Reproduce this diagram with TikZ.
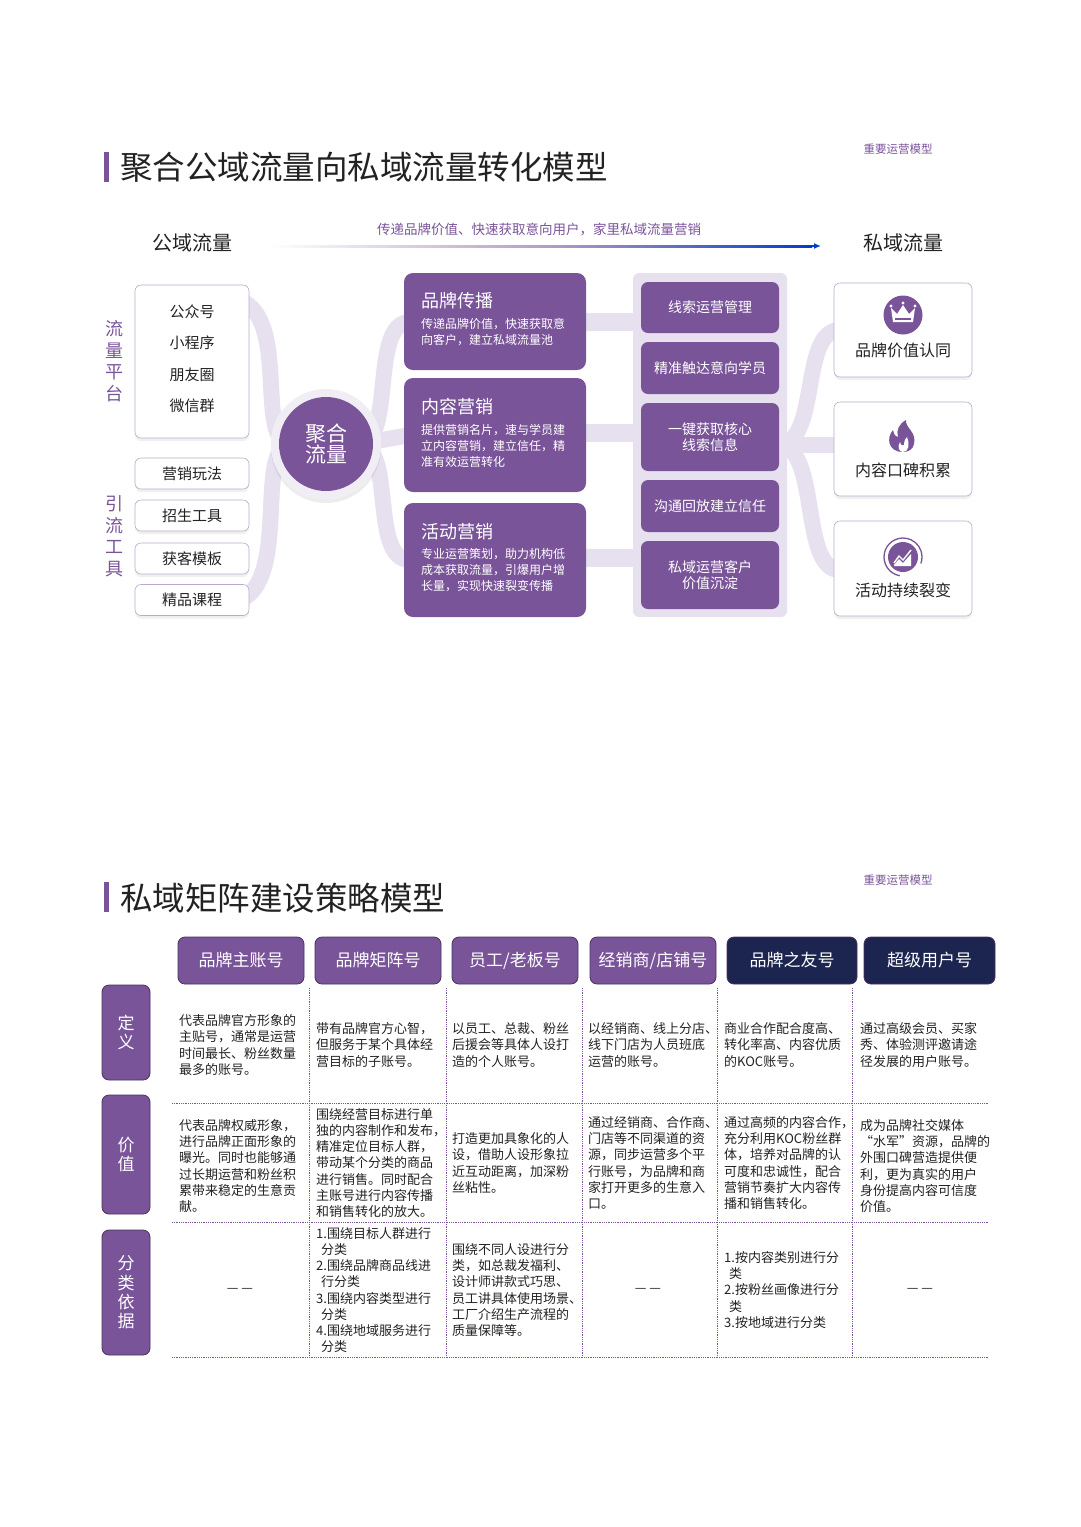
\documentclass[tikz,border=0pt]{standalone}
\usepackage{fontspec}
\setmainfont{Noto Sans CJK SC}
\usetikzlibrary{shadows,arrows.meta}
\definecolor{pp}{HTML}{7A5499}
\definecolor{lp}{HTML}{E7E1EF}
\definecolor{nv}{HTML}{1C2550}
\definecolor{tx}{HTML}{222222}
\newcommand{\fs}[1]{\fontsize{#1pt}{\dimexpr #1pt*5/4\relax}\selectfont}
\tikzset{
 wbox/.style={draw=pp!50,line width=0.6pt,fill=white,rounded corners=6pt,drop shadow={opacity=0.12,shadow xshift=0pt,shadow yshift=-3pt},inner sep=0pt,font=\fs{15},text=tx},
 pbox/.style={fill=pp,rounded corners=9pt,inner sep=0pt,text=white},
 cbox/.style={fill=pp,rounded corners=7pt,inner sep=0pt,text=white,font=\fs{14},align=center},
 band/.style={lp,line width=16pt},
 hbox/.style={draw=pp!60!black,line width=0.8pt,rounded corners=7pt,inner sep=0pt,text=white,font=\fs{17}},
 rbox/.style={fill=pp,draw=pp!60!black,line width=0.8pt,rounded corners=7pt,inner sep=0pt,text=white,font=\fs{17},align=center},
 cell/.style={anchor=west,align=left,font=\fs{13},text=tx,inner sep=0pt},
 grid/.style={pp,densely dotted,line width=0.8pt},
 side/.style={text=pp,font=\fs{18},align=center},
 pbody/.style={anchor=north west,text=white,font=\fs{12},align=left,inner sep=0pt},
}
\begin{document}
\begin{tikzpicture}[x=1pt,y=-1pt]
\useasboundingbox (0,0) rectangle (1080,1527);
% ---------- top titles
\fill[pp] (104,152) rectangle (109,182);
\node[anchor=west,font=\fs{32.5},text=tx,inner sep=0pt] (t1) at (120,167) {聚合公域流量向私域流量转化模型};
\node[font=\fs{11.5},text=pp] (m1) at (898,149) {重要运营模型};
\node[font=\fs{20},text=tx] (gy) at (192,243) {公域流量};
\node[font=\fs{20},text=tx] (sy) at (903,243) {私域流量};
\coordinate (a1) at (270,246); \coordinate (a2) at (821,246);
\shade[left color=white,right color=pp!60] (270,245) rectangle (560,247);
\shade[left color=pp!60,right color=blue!70!cyan!80!black] (560,245) rectangle (812,247);
\draw[-{Latex[length=7pt,width=6pt]},blue!70!cyan!80!black,line width=1.5pt] (810,246) -- (a2);
\node[font=\fs{13.5},text=pp] (al) at (539,229) {传递品牌价值、快速获取意向用户，家里私域流量营销};
% side labels
\node[side] (s1) at (114,361) {流\\[-1pt]量\\[-1pt]平\\[-1pt]台};
\node[side] (s2) at (114,536) {引\\[-1pt]流\\[-1pt]工\\[-1pt]具};
% bands left
\coordinate (c0) at (326,444);
\draw[band] (240,300) .. controls (290,320) and (255,440) .. (290,444);
\draw[band] (240,600) .. controls (290,580) and (255,448) .. (290,444);
\draw[band] (360,444) .. controls (395,440) and (370,322) .. (410,322);
\draw[band] (360,444) .. controls (395,448) and (370,560) .. (410,560);
\draw[band] (360,444) -- (410,435);
% left boxes
\node[wbox,minimum width=114pt,minimum height=153pt] (lb) at (192,361.5) {};
\node[font=\fs{15},text=tx] (l1) at (192,312) {公众号};
\node[font=\fs{15},text=tx] (l2) at (192,343) {小程序};
\node[font=\fs{15},text=tx] (l3) at (192,375) {朋友圈};
\node[font=\fs{15},text=tx] (l4) at (192,406) {微信群};
\node[wbox,minimum width=114pt,minimum height=31pt] (b1) at (192,473.5) {营销玩法};
\node[wbox,minimum width=114pt,minimum height=31pt] (b2) at (192,515.5) {招生工具};
\node[wbox,minimum width=114pt,minimum height=31pt] (b3) at (192,558.5) {获客模板};
\node[wbox,minimum width=114pt,minimum height=31pt] (b4) at (192,600) {精品课程};
% circle
\fill[white,drop shadow={opacity=0.15,shadow xshift=0pt,shadow yshift=-4pt}] (c0) circle (55);
\fill[lp!60] (c0) circle (55);
\node[circle,fill=pp,minimum size=94pt,text=white,font=\fs{21},align=center,inner sep=0pt] (cc) at (c0) {聚合\\[-6pt]流量};
% bars to column
\fill[lp] (580,313) rectangle (640,331);
\fill[lp] (580,424) rectangle (640,442);
\fill[lp] (580,549) rectangle (640,567);
% purple boxes
\node[pbox,minimum width=182pt,minimum height=97pt] (p1) at (495,321.5) {};
\node[pbox,minimum width=182pt,minimum height=114pt] (p2) at (495,435) {};
\node[pbox,minimum width=182pt,minimum height=114pt] (p3) at (495,560) {};
\node[anchor=west,text=white,font=\fs{18},inner sep=0pt] (p1t) at (421,301) {品牌传播};
\node[pbody] (p1b) at (421,318) {传递品牌价值，快速获取意\\[1pt]向客户，建立私域流量池};
\node[anchor=west,text=white,font=\fs{18},inner sep=0pt] (p2t) at (421,407) {内容营销};
\node[pbody] (p2b) at (421,424) {提供营销名片，速与学员建\\[1pt]立内容营销，建立信任，精\\[1pt]准有效运营转化};
\node[anchor=west,text=white,font=\fs{18},inner sep=0pt] (p3t) at (421,532) {活动营销};
\node[pbody] (p3b) at (421,548) {专业运营策划，助力机构低\\[1pt]成本获取流量，引爆用户增\\[1pt]长量，实现快速裂变传播};
% right bands
\draw[band] (780,445) .. controls (820,440) and (800,330) .. (840,330);
\draw[band] (780,445) .. controls (820,450) and (800,570) .. (840,570);
\draw[band] (780,445) -- (840,445);
% column
\fill[lp,rounded corners=6pt] (633,273) rectangle (787,617);
\node[cbox,minimum width=138pt,minimum height=51pt] (k1) at (710,307.5) {线索运营管理};
\node[cbox,minimum width=138pt,minimum height=52pt] (k2) at (710,368) {精准触达意向学员};
\node[cbox,minimum width=138pt,minimum height=68pt] (k3) at (710,437) {一键获取核心\\[-1pt]线索信息};
\node[cbox,minimum width=138pt,minimum height=52pt] (k4) at (710,506) {沟通回放建立信任};
\node[cbox,minimum width=138pt,minimum height=68pt] (k5) at (710,575) {私域运营客户\\[-1pt]价值沉淀};
% right boxes
\node[wbox,minimum width=138pt,minimum height=94pt] (r1) at (903,330) {};
\node[wbox,minimum width=138pt,minimum height=94pt] (r2) at (903,449) {};
\node[wbox,minimum width=138pt,minimum height=95pt] (r3) at (903,568.5) {};
\node[font=\fs{16},text=tx] (r1t) at (903,350) {品牌价值认同};
\node[font=\fs{16},text=tx] (r2t) at (903,470) {内容口碑积累};
\node[font=\fs{16},text=tx] (r3t) at (903,590) {活动持续裂变};
% icons
\fill[pp] (903,315) circle (19.5);
\fill[white] (893,322) -- (891,308) -- (897,314) -- (903,305) -- (909,314) -- (915,308) -- (913,322) -- cycle;
\fill[pp] (895,318) rectangle (911,319.5);
\fill[white] (891,306) circle (1.6) (915,306) circle (1.6) (903,303) circle (1.6);
\fill[pp] (903,452) .. controls (888,452) and (886,438) .. (893,430) .. controls (894,436) and (897,437) .. (898,437) .. controls (896,430) and (899,424) .. (906,420) .. controls (905,428) and (917,432) .. (914,444) .. controls (913,449) and (909,452) .. (903,452) -- cycle;
\fill[white] (903,452) .. controls (899,452) and (897,447) .. (900,442) .. controls (901,446) and (903,446) .. (904,445) .. controls (904,440) and (906,438) .. (907,437) .. controls (910,443) and (909,452) .. (903,452) -- cycle;
\draw[pp,line width=1.3pt] (903,557) ++(100:19) arc (100:380:19);
\fill[pp] (903,557) circle (15);
\draw[white,line width=1.4pt] (894,563) -- (899,556) -- (903,560) -- (911,550);
\fill[white] (894,565) -- (899,559) -- (903,563) -- (911,554) -- (911,566) -- (894,566) -- cycle;
% ---------- bottom
\fill[pp] (104,882) rectangle (109,912);
\node[anchor=west,font=\fs{32.5},text=tx,inner sep=0pt] (t2) at (120,898) {私域矩阵建设策略模型};
\node[font=\fs{11.5},text=pp] (m2) at (898,880) {重要运营模型};
\node[hbox,fill=pp,minimum width=126pt,minimum height=47pt] (h1) at (241,960.5) {品牌主账号};
\node[hbox,fill=pp,minimum width=126pt,minimum height=47pt] (h2) at (378,960.5) {品牌矩阵号};
\node[hbox,fill=pp,minimum width=126pt,minimum height=47pt] (h3) at (515,960.5) {员工/老板号};
\node[hbox,fill=pp,minimum width=126pt,minimum height=47pt] (h4) at (653,960.5) {经销商/店铺号};
\node[hbox,fill=nv,minimum width=130pt,minimum height=47pt] (h5) at (792,960.5) {品牌之友号};
\node[hbox,fill=nv,minimum width=131pt,minimum height=47pt] (h6) at (929.5,960.5) {超级用户号};
\node[rbox,minimum width=48pt,minimum height=95pt] (q1) at (126,1032.5) {定\\[-2pt]义};
\node[rbox,minimum width=48pt,minimum height=119pt] (q2) at (126,1154.5) {价\\[-2pt]值};
\node[rbox,minimum width=48pt,minimum height=125pt] (q3) at (126,1292.5) {分\\[-2pt]类\\[-2pt]依\\[-2pt]据};
% grid
\foreach \x in {309,446,582,717,852} \draw[grid] (\x,988) -- (\x,1357);
\foreach \y in {1103,1222,1357} \draw[grid] (172,\y) -- (988,\y);
% row 1
\node[cell] (d1) at (179,1045) {代表品牌官方形象的\\主贴号，通常是运营\\时间最长、粉丝数量\\最多的账号。};
\node[cell] (d2) at (316,1045) {带有品牌官方心智，\\但服务于某个具体经\\营目标的子账号。};
\node[cell] (d3) at (452,1045) {以员工、总裁、粉丝\\后援会等具体人设打\\造的个人账号。};
\node[cell] (d4) at (588,1045) {以经销商、线上分店、\\线下门店为人员班底\\运营的账号。};
\node[cell] (d5) at (724,1045) {商业合作配合度高、\\转化率高、内容优质\\的KOC账号。};
\node[cell] (d6) at (860,1045) {通过高级会员、买家\\秀、体验测评邀请途\\径发展的用户账号。};
% row 2
\node[cell] (v1) at (179,1166) {代表品牌权威形象，\\进行品牌正面形象的\\曝光。同时也能够通\\过长期运营和粉丝积\\累带来稳定的生意贡\\献。};
\node[cell] (v2) at (316,1163) {围绕经营目标进行单\\独的内容制作和发布，\\精准定位目标人群，\\带动某个分类的商品\\进行销售。同时配合\\主账号进行内容传播\\和销售转化的放大。};
\node[cell] (v3) at (452,1163) {打造更加具象化的人\\设，借助人设形象拉\\近互动距离，加深粉\\丝粘性。};
\node[cell] (v4) at (588,1163) {通过经销商、合作商、\\门店等不同渠道的资\\源，同步运营多个平\\行账号，为品牌和商\\家打开更多的生意入\\口。};
\node[cell] (v5) at (724,1163) {通过高频的内容合作，\\充分利用KOC粉丝群\\体，培养对品牌的认\\可度和忠诚性，配合\\营销节奏扩大内容传\\播和销售转化。};
\node[cell] (v6) at (860,1166) {成为品牌社交媒体\\“水军”资源，品牌的\\外围口碑营造提供便\\利，更为真实的用户\\身份提高内容可信度\\价值。};
% row 3
\node[font=\fs{13},text=tx] (f1) at (240,1290) {— —};
\node[cell] (f2) at (316,1290) {1.围绕目标人群进行\\\hspace*{5pt}分类\\2.围绕品牌商品线进\\\hspace*{5pt}行分类\\3.围绕内容类型进行\\\hspace*{5pt}分类\\4.围绕地域服务进行\\\hspace*{5pt}分类};
\node[cell] (f3) at (452,1290) {围绕不同人设进行分\\类，如总裁发福利、\\设计师讲款式巧思、\\员工讲具体使用场景、\\工厂介绍生产流程的\\质量保障等。};
\node[font=\fs{13},text=tx] (f4) at (648,1290) {— —};
\node[cell] (f5) at (724,1290) {1.按内容类别进行分\\\hspace*{5pt}类\\2.按粉丝画像进行分\\\hspace*{5pt}类\\3.按地域进行分类};
\node[font=\fs{13},text=tx] (f6) at (920,1290) {— —};
\end{tikzpicture}
\end{document}
